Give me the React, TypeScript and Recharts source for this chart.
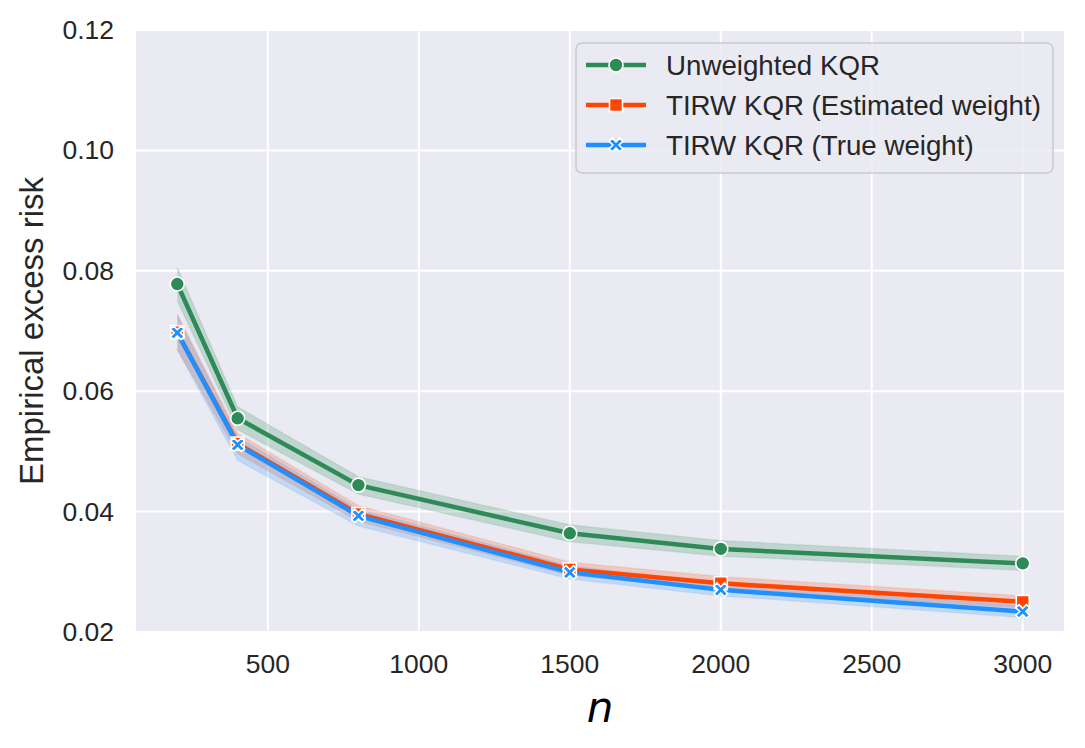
import React from 'react';
import { ComposedChart, Line, Area, XAxis, YAxis, CartesianGrid, Label } from 'recharts';

const nValues = [200, 400, 800, 1500, 2000, 3000];
const unweighted = [0.0778, 0.0555, 0.0444, 0.0364, 0.0338, 0.0314];
const unweightedLow = [0.0750, 0.0536, 0.0429, 0.0350, 0.0326, 0.0302];
const unweightedHigh = [0.0806, 0.0574, 0.0458, 0.0378, 0.0352, 0.0326];
const estimated = [0.0698, 0.0513, 0.0396, 0.0304, 0.0281, 0.0250];
const estimatedLow = [0.0670, 0.0496, 0.0384, 0.0294, 0.0271, 0.0240];
const estimatedHigh = [0.0728, 0.0530, 0.0410, 0.0316, 0.0292, 0.0260];
const trueWeight = [0.0697, 0.0511, 0.0393, 0.0299, 0.0270, 0.0234];
const trueLow = [0.0668, 0.0485, 0.0376, 0.0288, 0.0260, 0.0224];
const trueHigh = [0.0726, 0.0524, 0.0404, 0.0310, 0.0281, 0.0244];

const xTicks = [500, 1000, 1500, 2000, 2500, 3000];
const yTicks = [0.02, 0.04, 0.06, 0.08, 0.10, 0.12];
const seriesNames = ['Unweighted KQR', 'TIRW KQR (Estimated weight)', 'TIRW KQR (True weight)'];

const GREEN = '#2E8B57';
const ORANGE = '#FF4500';
const BLUE = '#1E90FF';
const FONT = '"Liberation Sans", Arial, sans-serif';
const TEXT = '#262626';

const data = nValues.map((n, i) => ({
  n,
  unw: unweighted[i],
  unwBand: [unweightedLow[i], unweightedHigh[i]],
  est: estimated[i],
  estBand: [estimatedLow[i], estimatedHigh[i]],
  tru: trueWeight[i],
  truBand: [trueLow[i], trueHigh[i]],
}));

const circleMarker = (cx: number, cy: number, color: string, key?: any) => (
  <circle key={key} cx={cx} cy={cy} r={7} fill={color} stroke="#fff" strokeWidth={1.6} />
);
const squareMarker = (cx: number, cy: number, color: string, key?: any) => (
  <rect key={key} x={cx - 6.5} y={cy - 6.5} width={13} height={13} fill={color} stroke="#fff" strokeWidth={1.6} />
);
const xMarker = (cx: number, cy: number, color: string, key?: any) => {
  const s = 7.5;
  const w = 2.2;
  const pts = [
    [-w, -s], [w, -s], [w, -w], [s, -w], [s, w], [w, w], [w, s], [-w, s], [-w, w], [-s, w], [-s, -w], [-w, -w],
  ].map((p) => p.join(',')).join(' ');
  return (
    <polygon key={key} points={pts} transform={`translate(${cx},${cy}) rotate(45)`} fill={color} stroke="#fff" strokeWidth={1.6} strokeLinejoin="miter" />
  );
};

const makeDot = (fn: any, color: string) => (props: any) => {
  const { cx, cy, index } = props;
  if (cx == null || cy == null) return <g key={`d${index}`} />;
  return fn(cx, cy, color, `d${index}`);
};

const XTick = (props: any) => {
  const { x, y, payload } = props;
  return (
    <text x={x} y={y + 41} textAnchor="middle" fontSize={26.5} fill={TEXT} fontFamily={FONT}>
      {payload.value}
    </text>
  );
};

const YTick = (props: any) => {
  const { x, y, payload } = props;
  return (
    <text x={x - 21} y={y} textAnchor="end" dominantBaseline="central" fontSize={26.5} fill={TEXT} fontFamily={FONT}>
      {Number(payload.value).toFixed(2)}
    </text>
  );
};

const legendItems = [
  { name: seriesNames[0], color: GREEN, marker: circleMarker },
  { name: seriesNames[1], color: ORANGE, marker: squareMarker },
  { name: seriesNames[2], color: BLUE, marker: xMarker },
];

export default function App() {
  return (
    <div style={{ position: 'absolute', left: 0, top: 0, width: 1085, height: 748, background: '#fff' }}>
      <ComposedChart width={1085} height={748} data={data} margin={{ top: 30, right: 20, bottom: 0, left: 0 }}>
        <CartesianGrid fill="#EAEAF2" fillOpacity={1} stroke="#ffffff" strokeWidth={2} />
        <XAxis
          dataKey="n"
          type="number"
          domain={[60, 3140]}
          ticks={xTicks}
          allowDataOverflow
          axisLine={false}
          tickLine={false}
          tickSize={0}
          tickMargin={0}
          height={116}
          tick={<XTick />}
          interval={0}
        >
          <Label
            content={() => (
              <text x={600} y={722} textAnchor="middle" fontSize={42} fontStyle="italic" fill="#000" fontFamily='"DejaVu Sans", sans-serif'>
                n
              </text>
            )}
          />
        </XAxis>
        <YAxis
          type="number"
          domain={[0.02, 0.12]}
          ticks={yTicks}
          allowDataOverflow
          axisLine={false}
          tickLine={false}
          tickSize={0}
          tickMargin={0}
          width={135}
          tick={<YTick />}
          interval={0}
        >
          <Label
            content={() => (
              <text
                x={31}
                y={331}
                transform="rotate(-90 31 331)"
                textAnchor="middle"
                dominantBaseline="central"
                fontSize={33}
                fill={TEXT}
                fontFamily={FONT}
              >
                Empirical excess risk
              </text>
            )}
          />
        </YAxis>
        <Area dataKey="unwBand" type="linear" stroke={GREEN} strokeOpacity={0.1} strokeWidth={1.5} fill={GREEN} fillOpacity={0.22} isAnimationActive={false} activeDot={false} />
        <Line dataKey="unw" name={seriesNames[0]} type="linear" stroke={GREEN} strokeWidth={4.5} dot={makeDot(circleMarker, GREEN)} activeDot={false} isAnimationActive={false} />
        <Area dataKey="estBand" type="linear" stroke={ORANGE} strokeOpacity={0.1} strokeWidth={1.5} fill={ORANGE} fillOpacity={0.2} isAnimationActive={false} activeDot={false} />
        <Line dataKey="est" name={seriesNames[1]} type="linear" stroke={ORANGE} strokeWidth={4.5} dot={makeDot(squareMarker, ORANGE)} activeDot={false} isAnimationActive={false} />
        <Area dataKey="truBand" type="linear" stroke={BLUE} strokeOpacity={0.1} strokeWidth={1.5} fill={BLUE} fillOpacity={0.2} isAnimationActive={false} activeDot={false} />
        <Line dataKey="tru" name={seriesNames[2]} type="linear" stroke={BLUE} strokeWidth={4.5} dot={makeDot(xMarker, BLUE)} activeDot={false} isAnimationActive={false} />
      </ComposedChart>
      <svg
        width={480}
        height={133}
        style={{ position: 'absolute', left: 575, top: 42 }}
      >
        <rect x={1} y={1} width={477} height={130} rx={6} ry={6} fill="#EAEAF2" fillOpacity={0.8} stroke="#CCCCCC" strokeWidth={1.6} />
        {legendItems.map((it, i) => {
          const y = 23 + i * 40;
          return (
            <g key={it.name}>
              <line x1={11} x2={71} y1={y} y2={y} stroke={it.color} strokeWidth={4.5} />
              {it.marker(41, y, it.color)}
              <text x={91} y={y} dominantBaseline="central" fontSize={27.7} fill={TEXT} fontFamily={FONT}>
                {it.name}
              </text>
            </g>
          );
        })}
      </svg>
    </div>
  );
}
